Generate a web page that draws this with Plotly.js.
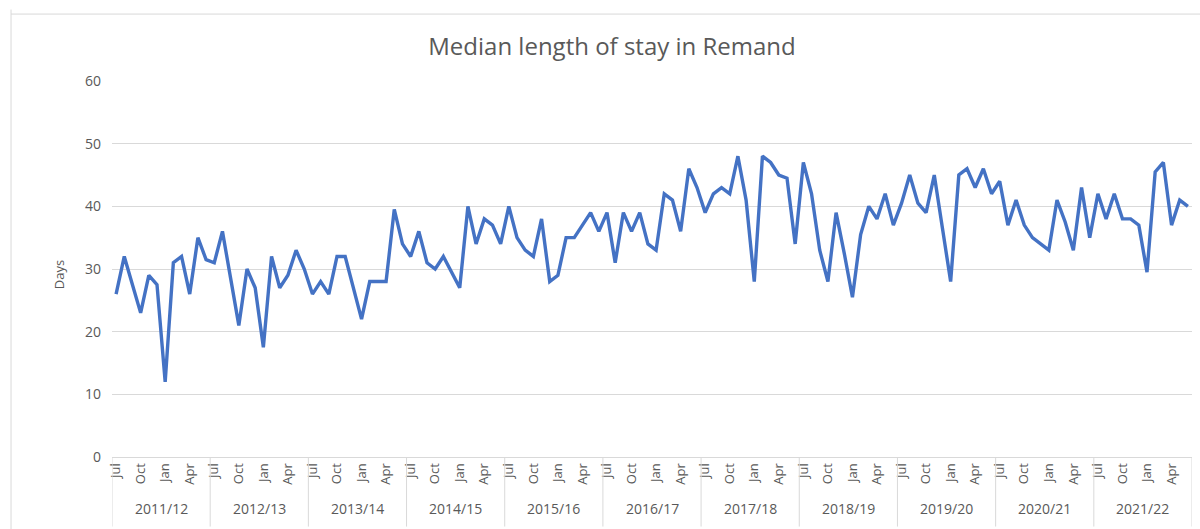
<!DOCTYPE html>
<html><head><meta charset="utf-8">
<script src="https://cdn.plot.ly/plotly-3.0.1.min.js"></script>
<style>html,body{margin:0;padding:0;background:#fff}#chart{width:1200px;height:529px}</style>
</head><body><div id="chart"></div>
<script>
// Fiscal years (Jul-Jun) and month categories
const years = ['2011/12','2012/13','2013/14','2014/15','2015/16','2016/17','2017/18','2018/19','2019/20','2020/21','2021/22'];
const months = ['Jul','Aug','Sep','Oct','Nov','Dec','Jan','Feb','Mar','Apr','May','Jun'];
const labelledMonths = ['Jul','Oct','Jan','Apr'];

// Median length of stay in remand (days), one array per fiscal year, Jul..Jun
const fy2011_12 = [26, 32, 27.5, 23, 29, 27.5, 12, 31, 32, 26, 35, 31.5];
const fy2012_13 = [31, 36, 28.5, 21, 30, 27, 17.5, 32, 27, 29, 33, 30];
const fy2013_14 = [26, 28, 26, 32, 32, 27, 22, 28, 28, 28, 39.5, 34];
const fy2014_15 = [32, 36, 31, 30, 32, 29.5, 27, 40, 34, 38, 37, 34];
const fy2015_16 = [40, 35, 33, 32, 38, 28, 29, 35, 35, 37, 39, 36];
const fy2016_17 = [39, 31, 39, 36, 39, 34, 33, 42, 41, 36, 46, 43];
const fy2017_18 = [39, 42, 43, 42, 48, 41, 28, 48, 47, 45, 44.5, 34];
const fy2018_19 = [47, 42, 33, 28, 39, 32.5, 25.5, 35.5, 40, 38, 42, 37];
const fy2019_20 = [40.5, 45, 40.5, 39, 45, 36.5, 28, 45, 46, 43, 46, 42];
const fy2020_21 = [44, 37, 41, 37, 35, 34, 33, 41, 37.5, 33, 43, 35];
const fy2021_22 = [42, 38, 42, 38, 38, 37, 29.5, 45.5, 47, 37, 41, 40];

const series = [fy2011_12, fy2012_13, fy2013_14, fy2014_15, fy2015_16, fy2016_17,
                fy2017_18, fy2018_19, fy2019_20, fy2020_21, fy2021_22];

const xs = [], ys = [], tickvals = [], ticktext = [];
series.forEach((vals, yi) => {
  vals.forEach((v, mi) => {
    const idx = yi * months.length + mi;
    xs.push(idx); ys.push(v);
    if (labelledMonths.includes(months[mi])) { tickvals.push(idx); ticktext.push(months[mi]); }
  });
});

const grey = '#595959';
const lineGrey = '#d9d9d9';
const font = 'Open Sans, Noto Sans, sans-serif';

const shapes = [];
for (let k = 0; k <= years.length; k++) {
  shapes.push({type:'line', xref:'x', yref:'paper', x0:k*12-0.5, x1:k*12-0.5, y0:0, y1:-0.185,
               line:{color:lineGrey, width:1}});
}
// chart border (left & top)
shapes.push({type:'line', xref:'paper', yref:'paper', x0:-0.0935, x1:-0.0935, y0:1.19, y1:-0.25, line:{color:lineGrey, width:1}});
shapes.push({type:'line', xref:'paper', yref:'paper', x0:-0.0935, x1:1.01, y0:1.178, y1:1.178, line:{color:lineGrey, width:1}});

const annotations = years.map((y, k) => ({
  text: y, xref:'x', yref:'paper', x: k*12 + 5.5, y: -0.136, showarrow:false,
  xanchor:'center', yanchor:'middle', font:{family:font, size:14, color:grey}
}));
annotations.push({text:'Days', xref:'paper', yref:'paper', x:-0.0495, y:0.485, textangle:-90,
  showarrow:false, xanchor:'center', yanchor:'middle', font:{family:font, size:13, color:grey}});

const trace = {x: xs, y: ys, type:'scatter', mode:'lines',
  line:{color:'#4472C4', width:3.4}, hoverinfo:'y'};

const layout = {
  width:1200, height:529,
  margin:{l:112, r:8, t:81, b:72},
  paper_bgcolor:'#fff', plot_bgcolor:'#fff',
  showlegend:false,
  title:{text:'Median length of stay in Remand', x:612/1200, xanchor:'center', xref:'container',
         y:1-47/529, yanchor:'middle', yref:'container',
         font:{family:font, size:24, color:grey}},
  xaxis:{range:[-0.5, 131.5], tickmode:'array', tickvals:tickvals, ticktext:ticktext,
         tickangle:-90, showgrid:false, zeroline:false, showline:true, linecolor:lineGrey,
         ticks:'', tickfont:{family:font, size:13, color:grey}, fixedrange:true},
  yaxis:{range:[0, 60], dtick:10, tickmode:'linear', showgrid:true, gridcolor:lineGrey, gridwidth:1,
         zeroline:false, showline:false, ticks:'', ticklabelstandoff:10,
         tickfont:{family:font, size:14, color:grey}, fixedrange:true},
  shapes: shapes,
  annotations: annotations
};

Plotly.newPlot('chart', [trace], layout, {displayModeBar:false, staticPlot:true});
</script>
</body></html>
